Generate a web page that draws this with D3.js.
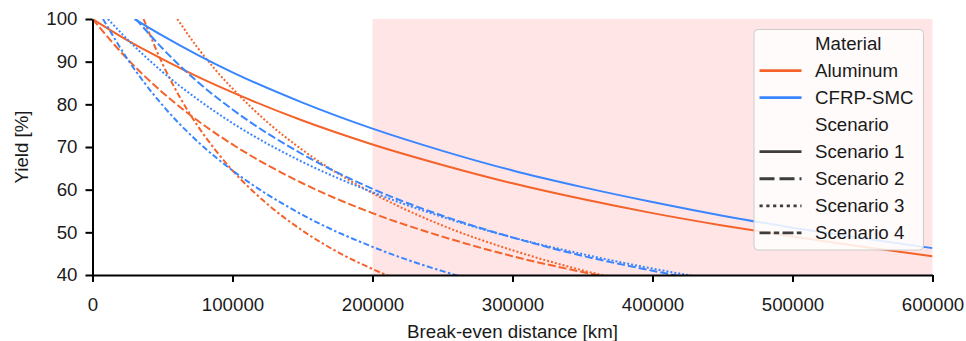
<!DOCTYPE html>
<html>
<head>
<meta charset="utf-8">
<script src="https://cdn.jsdelivr.net/npm/d3@7"></script>
<style>
  body { margin: 0; background: #fff; }
  svg text { font-family: "Liberation Sans", Arial, sans-serif; fill: #1a1a1a; }
</style>
</head>
<body>
<div id="chart"></div>
<script>
// values: [distance km, yield %]
var aluS1 = [[0,100],[25000,95.0],[50000,90.6],[75000,86.5],[100000,82.8],[150000,76.2],[200000,70.6],[250000,65.8],[300000,61.5],[350000,57.8],[400000,54.5],[450000,51.6],[500000,49.0],[550000,46.6],[600000,44.4]];
var aluS2 = [[0,100],[25000,90.6],[50000,82.8],[75000,76.2],[100000,70.6],[150000,61.5],[200000,54.5],[250000,49.0],[300000,44.4],[350000,40.7],[380000,38.7]];
var aluS3 = [[60600,100],[75000,93.3],[87500,88.2],[100000,83.7],[125000,75.8],[150000,69.3],[200000,59.2],[250000,51.6],[300000,45.8],[350000,41.1],[400000,37.3]];
var aluS4 = [[36500,100],[50000,89.5],[62500,81.6],[75000,75.0],[87500,69.4],[100000,64.5],[125000,56.6],[150000,50.4],[175000,45.4],[200000,41.4],[225000,38.0]];
var cfrpS1 = [[30000,100],[50000,96.1],[75000,91.6],[100000,87.5],[150000,80.4],[200000,74.3],[250000,69.1],[300000,64.5],[350000,60.6],[400000,57.1],[450000,53.9],[500000,51.1],[550000,48.6],[600000,46.3]];
var cfrpS2 = [[31000,100],[50000,93.1],[75000,85.3],[100000,78.8],[150000,68.3],[200000,60.2],[250000,53.9],[300000,48.8],[350000,44.5],[400000,41.0],[450000,37.9]];
var cfrpS3 = [[11000,100],[25000,95.2],[50000,87.6],[75000,81.2],[100000,75.6],[150000,66.5],[200000,59.4],[250000,53.6],[300000,48.8],[350000,44.9],[400000,41.5],[450000,38.6]];
var cfrpS4 = [[7500,100],[25000,90.6],[50000,79.8],[75000,71.3],[100000,64.5],[150000,54.1],[200000,46.6],[250000,40.9],[300000,36.5]];

var materials = ["Aluminum", "CFRP-SMC"];
var scenarios = ["Scenario 1", "Scenario 2", "Scenario 3", "Scenario 4"];
var xTicks = [0, 100000, 200000, 300000, 400000, 500000, 600000];
var yTicks = [40, 50, 60, 70, 80, 90, 100];
var shadeRange = [200000, 600000];

var colors = { "Aluminum": "#f4632a", "CFRP-SMC": "#3a86ff" };
var dashPlot = ["none", "8,3", "2,2", "6,2.5,2.5,2.5"];
var dashLegend = ["none", "15,5", "3.2,3.6", "11,3.3,5.4,3.3"];
var fs = 18.7;

var series = [
  { m: "Aluminum", s: 0, d: aluS1 }, { m: "Aluminum", s: 1, d: aluS2 },
  { m: "Aluminum", s: 2, d: aluS3 }, { m: "Aluminum", s: 3, d: aluS4 },
  { m: "CFRP-SMC", s: 0, d: cfrpS1 }, { m: "CFRP-SMC", s: 1, d: cfrpS2 },
  { m: "CFRP-SMC", s: 2, d: cfrpS3 }, { m: "CFRP-SMC", s: 3, d: cfrpS4 }
];

var width = 966, height = 341;
var svg = d3.select("#chart").append("svg")
  .attr("width", width).attr("height", height);

var x = d3.scaleLinear().domain([0, 600000]).range([92.5, 932.5]);
var y = d3.scaleLinear().domain([40, 100]).range([275, 19]);

svg.append("defs").append("clipPath").attr("id", "plotclip")
  .append("rect")
  .attr("x", x(0)).attr("y", y(100))
  .attr("width", x(600000) - x(0)).attr("height", y(40) - y(100));

// shaded span
svg.append("rect")
  .attr("x", x(shadeRange[0])).attr("y", y(100))
  .attr("width", x(shadeRange[1]) - x(shadeRange[0]))
  .attr("height", y(40) - y(100))
  .attr("fill", "#ff0000").attr("fill-opacity", 0.1);

var line = d3.line()
  .x(function(d) { return x(d[0]); })
  .y(function(d) { return y(d[1]); })
  .curve(d3.curveMonotoneX);

svg.append("g").attr("clip-path", "url(#plotclip)")
  .selectAll("path")
  .data(series)
  .enter().append("path")
  .attr("d", function(d) { return line(d.d); })
  .attr("fill", "none")
  .attr("stroke", function(d) { return colors[d.m]; })
  .attr("stroke-width", 2)
  .attr("stroke-dasharray", function(d) { return dashPlot[d.s]; });

// axes
var xAxis = svg.append("g")
  .attr("transform", "translate(0," + y(40) + ")")
  .call(d3.axisBottom(x).tickValues(xTicks).tickFormat(d3.format("d"))
    .tickSize(7).tickPadding(16).tickSizeOuter(0));
var yAxis = svg.append("g")
  .attr("transform", "translate(" + x(0) + ",0)")
  .call(d3.axisLeft(y).tickValues(yTicks).tickSize(7).tickPadding(8).tickSizeOuter(0));

[xAxis, yAxis].forEach(function(g) {
  g.select(".domain").attr("stroke", "#000").attr("stroke-width", 2);
  g.selectAll(".tick line").attr("stroke", "#000").attr("stroke-width", 2);
  g.selectAll(".tick text").attr("font-size", fs).style("font-family", "Liberation Sans, Arial, sans-serif").attr("fill", "#1a1a1a");
});

svg.append("text")
  .attr("x", (x(0) + x(600000)) / 2).attr("y", 338)
  .attr("text-anchor", "middle").attr("font-size", fs)
  .text("Break-even distance [km]");

svg.append("text")
  .attr("transform", "translate(28," + ((y(40) + y(100)) / 2) + ") rotate(-90)")
  .attr("text-anchor", "middle").attr("font-size", fs)
  .text("Yield [%]");

// legend
var lg = svg.append("g");
lg.append("rect")
  .attr("x", 754).attr("y", 29.5).attr("width", 169.5).attr("height", 220.5)
  .attr("rx", 4)
  .attr("fill", "#fff").attr("fill-opacity", 0.85)
  .attr("stroke", "#cccccc").attr("stroke-width", 1);

var rows = [{ t: "Material" }]
  .concat(materials.map(function(m) { return { t: m, c: colors[m], dash: "none" }; }))
  .concat([{ t: "Scenario" }])
  .concat(scenarios.map(function(s, i) { return { t: s, c: "#3d3d3d", dash: dashLegend[i] }; }));

rows.forEach(function(r, i) {
  var ry = 43.5 + i * 27.05;
  if (r.c) {
    lg.append("line")
      .attr("x1", 759.5).attr("x2", 801.5).attr("y1", ry).attr("y2", ry)
      .attr("stroke", r.c).attr("stroke-width", 2.8)
      .attr("stroke-dasharray", r.dash);
  }
  lg.append("text")
    .attr("x", 815).attr("y", ry).attr("dy", "0.35em")
    .attr("font-size", fs)
    .text(r.t);
});
</script>
</body>
</html>
